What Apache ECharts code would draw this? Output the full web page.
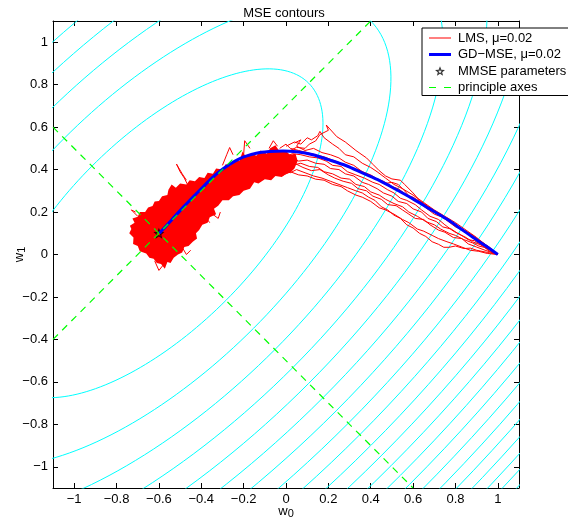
<!DOCTYPE html>
<html>
<head>
<meta charset="utf-8">
<title>MSE contours</title>
<script src="https://cdn.jsdelivr.net/npm/echarts@6/dist/echarts.min.js"></script>
<style>
  html, body { margin: 0; padding: 0; background: #fff; }
  #main { width: 568px; height: 529px; }
</style>
</head>
<body>
<div id="main"></div>
<script>
// tick labels (both axes)
var xTicks = [-1, -0.8, -0.6, -0.4, -0.2, 0, 0.2, 0.4, 0.6, 0.8, 1];
var yTicks = [-1, -0.8, -0.6, -0.4, -0.2, 0, 0.2, 0.4, 0.6, 0.8, 1];

// MSE surface: minimum, eigenvalue ratio of the principal axes, contour levels
var mmse = [-0.6, 0.1];
var eigenRatio = 5;
var contourLevels = [1, 2, 3, 4, 5, 6, 7, 8, 9, 10, 11, 12, 13, 14, 15, 16, 17, 18, 19, 20, 21];

// principal axes (end points)
var principalAxes = [
  [[-1.1, -0.4], [0.4, 1.1]],
  [[-1.1, 0.6], [0.6, -1.1]]
];

// gradient descent path, from w = (1, 0) to the MMSE point
var gdPath = [
  [1.0, 0.0], [0.94, 0.042], [0.882, 0.081], [0.82, 0.125], [0.757, 0.168],
  [0.678, 0.215], [0.599, 0.262], [0.52, 0.306], [0.442, 0.348], [0.363, 0.383],
  [0.285, 0.418], [0.2, 0.447], [0.127, 0.47], [0.05, 0.484], [-0.014, 0.488],
  [-0.08, 0.485], [-0.14, 0.477], [-0.218, 0.452], [-0.297, 0.404], [-0.35, 0.36],
  [-0.392, 0.318], [-0.44, 0.27], [-0.486, 0.222], [-0.54, 0.163], [-0.598, 0.1]
];

// dense part of the LMS runs around the MMSE point (outline)
var lmsCloud = [
  [-0.737, 0.136], [-0.715, 0.15], [-0.725, 0.17], [-0.7, 0.178], [-0.69, 0.2],
  [-0.665, 0.2], [-0.651, 0.222], [-0.63, 0.228], [-0.62, 0.25], [-0.6, 0.252],
  [-0.585, 0.275], [-0.56, 0.28], [-0.555, 0.305], [-0.54, 0.33], [-0.52, 0.315],
  [-0.5, 0.335], [-0.47, 0.33], [-0.455, 0.35], [-0.43, 0.345], [-0.41, 0.365],
  [-0.385, 0.36], [-0.37, 0.385], [-0.345, 0.38], [-0.33, 0.405], [-0.3, 0.4],
  [-0.285, 0.425], [-0.26, 0.42], [-0.245, 0.445], [-0.22, 0.44], [-0.205, 0.485],
  [-0.19, 0.46], [-0.16, 0.475], [-0.14, 0.465], [-0.12, 0.49], [-0.09, 0.475],
  [-0.075, 0.5], [-0.05, 0.515], [-0.03, 0.485], [0.0, 0.485], [0.02, 0.47],
  [0.045, 0.475], [0.055, 0.44], [0.04, 0.405], [0.02, 0.385], [0.0, 0.38],
  [-0.02, 0.365], [-0.05, 0.37], [-0.07, 0.35], [-0.1, 0.355], [-0.13, 0.335],
  [-0.15, 0.34], [-0.17, 0.31], [-0.2, 0.3], [-0.22, 0.28], [-0.25, 0.275],
  [-0.27, 0.255], [-0.3, 0.255], [-0.32, 0.23], [-0.34, 0.215], [-0.33, 0.19],
  [-0.36, 0.175], [-0.37, 0.15], [-0.395, 0.14], [-0.41, 0.115], [-0.425, 0.1],
  [-0.42, 0.075], [-0.44, 0.06], [-0.46, 0.04], [-0.48, 0.035], [-0.49, 0.01],
  [-0.51, 0.0], [-0.53, -0.015], [-0.545, -0.04], [-0.56, -0.035], [-0.572, -0.067],
  [-0.59, -0.045], [-0.61, -0.04], [-0.625, -0.02], [-0.645, -0.015], [-0.66, 0.005],
  [-0.69, 0.015], [-0.7, 0.04], [-0.722, 0.05], [-0.72, 0.08], [-0.74, 0.1],
  [-0.73, 0.12]
];

// individual LMS runs (and stray excursions at the cloud edge)
var lmsRuns = [
  [[1, 0], [0.96, 0.03], [0.93, 0.05], [0.9, 0.075], [0.87, 0.09], [0.84, 0.115], [0.8, 0.13], [0.76, 0.16], [0.72, 0.19], [0.68, 0.22], [0.63, 0.255], [0.6, 0.29], [0.56, 0.33], [0.54, 0.35], [0.5, 0.356], [0.47, 0.37], [0.44, 0.395], [0.41, 0.425], [0.38, 0.455], [0.33, 0.49], [0.28, 0.53], [0.24, 0.555], [0.19, 0.61], [0.2, 0.585], [0.16, 0.565], [0.14, 0.535], [0.11, 0.52], [0.09, 0.5], [0.05, 0.505], [0.02, 0.49], [-0.02, 0.47], [-0.06, 0.49], [-0.1, 0.465], [-0.14, 0.48]],
  [[1, 0], [0.95, 0.01], [0.9, 0.02], [0.87, 0.03], [0.84, 0.028], [0.8, 0.04], [0.77, 0.034], [0.745, 0.034], [0.72, 0.048], [0.69, 0.06], [0.66, 0.085], [0.63, 0.1], [0.6, 0.125], [0.57, 0.14], [0.54, 0.17], [0.51, 0.185], [0.48, 0.21], [0.45, 0.225], [0.42, 0.255], [0.39, 0.27], [0.36, 0.29], [0.33, 0.3], [0.29, 0.315], [0.25, 0.33], [0.21, 0.345], [0.17, 0.36], [0.13, 0.37], [0.09, 0.385], [0.05, 0.4], [0.02, 0.385], [-0.02, 0.4]],
  [[1, 0], [0.96, 0.02], [0.92, 0.045], [0.88, 0.06], [0.85, 0.08], [0.81, 0.1], [0.78, 0.12], [0.74, 0.13], [0.71, 0.155], [0.67, 0.17], [0.64, 0.2], [0.6, 0.215], [0.57, 0.24], [0.53, 0.25], [0.5, 0.275], [0.46, 0.29], [0.43, 0.31], [0.39, 0.33], [0.36, 0.34], [0.32, 0.37], [0.28, 0.38], [0.25, 0.4], [0.21, 0.405], [0.18, 0.425], [0.14, 0.43], [0.1, 0.445], [0.06, 0.44], [0.02, 0.455], [-0.02, 0.43], [-0.06, 0.445]],
  [[1, 0], [0.97, 0.025], [0.93, 0.055], [0.9, 0.07], [0.86, 0.1], [0.83, 0.12], [0.79, 0.145], [0.75, 0.17], [0.71, 0.2], [0.68, 0.215], [0.64, 0.245], [0.6, 0.27], [0.57, 0.28], [0.53, 0.31], [0.5, 0.32], [0.46, 0.345], [0.42, 0.36], [0.38, 0.38], [0.34, 0.4], [0.3, 0.41], [0.26, 0.43], [0.22, 0.445], [0.18, 0.46], [0.14, 0.47], [0.1, 0.48], [0.06, 0.49], [0.02, 0.5], [0.0, 0.52], [-0.03, 0.5]],
  [[1, 0], [0.95, 0.03], [0.91, 0.04], [0.88, 0.055], [0.84, 0.07], [0.8, 0.09], [0.77, 0.1], [0.73, 0.12], [0.7, 0.14], [0.66, 0.155], [0.62, 0.18], [0.58, 0.2], [0.55, 0.225], [0.51, 0.24], [0.47, 0.26], [0.44, 0.28], [0.4, 0.295], [0.37, 0.32], [0.33, 0.33], [0.3, 0.355], [0.26, 0.36], [0.22, 0.38], [0.18, 0.39], [0.15, 0.41], [0.11, 0.415], [0.07, 0.43], [0.03, 0.42], [-0.01, 0.44], [-0.05, 0.42]],
  [[1, 0], [0.96, 0.035], [0.92, 0.06], [0.89, 0.085], [0.85, 0.11], [0.82, 0.12], [0.78, 0.15], [0.74, 0.175], [0.7, 0.19], [0.66, 0.22], [0.62, 0.25], [0.59, 0.265], [0.56, 0.3], [0.53, 0.33], [0.5, 0.34], [0.47, 0.335], [0.44, 0.35], [0.4, 0.375], [0.36, 0.39], [0.32, 0.42], [0.28, 0.435], [0.25, 0.455], [0.21, 0.47], [0.17, 0.48], [0.13, 0.5], [0.09, 0.49], [0.05, 0.51], [0.07, 0.54], [0.04, 0.525]],
  [[1, 0], [0.94, 0.02], [0.9, 0.035], [0.86, 0.05], [0.83, 0.075], [0.79, 0.08], [0.75, 0.105], [0.72, 0.115], [0.68, 0.14], [0.65, 0.165], [0.61, 0.17], [0.58, 0.19], [0.55, 0.21], [0.52, 0.23], [0.48, 0.235], [0.45, 0.26], [0.41, 0.275], [0.38, 0.3], [0.34, 0.31], [0.31, 0.335], [0.27, 0.345], [0.23, 0.36], [0.2, 0.375], [0.16, 0.4], [0.12, 0.395], [0.08, 0.41], [0.04, 0.43], [0.0, 0.41]],
  [[1, 0], [0.96, 0.015], [0.93, 0.04], [0.89, 0.065], [0.86, 0.07], [0.82, 0.095], [0.79, 0.11], [0.75, 0.14], [0.72, 0.165], [0.68, 0.18], [0.64, 0.21], [0.61, 0.235], [0.57, 0.255], [0.54, 0.265], [0.51, 0.29], [0.48, 0.305], [0.44, 0.33], [0.41, 0.34], [0.37, 0.36], [0.33, 0.375], [0.29, 0.39], [0.26, 0.415], [0.22, 0.42], [0.19, 0.44], [0.15, 0.455], [0.11, 0.46], [0.07, 0.47], [0.03, 0.475], [0.0, 0.46]],
  [[1, 0], [0.95, 0.04], [0.9, 0.08], [0.85, 0.115], [0.8, 0.15], [0.75, 0.18], [0.7, 0.21], [0.65, 0.245], [0.6, 0.28], [0.55, 0.31], [0.51, 0.33], [0.47, 0.36], [0.43, 0.39], [0.4, 0.41], [0.36, 0.43], [0.32, 0.46], [0.28, 0.47], [0.25, 0.5], [0.22, 0.52], [0.18, 0.55], [0.16, 0.58], [0.15, 0.56], [0.12, 0.54], [0.1, 0.55], [0.07, 0.52], [0.04, 0.53], [0.0, 0.51]],
  [[1, 0], [0.95, 0.005], [0.91, 0.015], [0.87, 0.02], [0.83, 0.035], [0.79, 0.05], [0.76, 0.06], [0.72, 0.075], [0.69, 0.09], [0.65, 0.11], [0.62, 0.12], [0.58, 0.15], [0.55, 0.165], [0.51, 0.19], [0.47, 0.21], [0.44, 0.22], [0.4, 0.25], [0.36, 0.27], [0.33, 0.28], [0.29, 0.3], [0.26, 0.32], [0.22, 0.33], [0.18, 0.35], [0.14, 0.355], [0.1, 0.37], [0.06, 0.375], [0.02, 0.39], [-0.02, 0.37]],
  [[-0.45, 0.3], [-0.48, 0.36], [-0.5, 0.39], [-0.517, 0.426], [-0.49, 0.38], [-0.47, 0.35]],
  [[-0.3, 0.42], [-0.28, 0.47], [-0.266, 0.504], [-0.25, 0.47]],
  [[-0.2, 0.47], [-0.195, 0.536], [-0.17, 0.5]],
  [[-0.08, 0.5], [-0.06, 0.536], [-0.04, 0.51]],
  [[-0.45, 0.2], [-0.41, 0.17], [-0.39, 0.19], [-0.36, 0.15]],
  [[-0.5, 0.05], [-0.47, 0.0], [-0.45, 0.02]],
  [[-0.62, -0.03], [-0.6, -0.075], [-0.58, -0.05]],
  [[-0.7, 0.18], [-0.73, 0.21], [-0.71, 0.2]],
  [[-0.36, 0.2], [-0.32, 0.17], [-0.31, 0.2]]
];

var LMS = 'LMS, \u03bc=0.02';
var GD = 'GD\u2212MSE, \u03bc=0.02';
var MM = 'MMSE parameters';
var PA = 'principle axes';

function starPath(cx, cy, R, r, rev) {
  var pts = [];
  for (var i = 0; i < 10; i++) {
    var a = -Math.PI / 2 + i * Math.PI / 5;
    var rr = i % 2 ? r : R;
    pts.push((cx + rr * Math.cos(a)).toFixed(2) + ',' + (cy + rr * Math.sin(a)).toFixed(2));
  }
  if (rev) pts.reverse();
  return 'M' + pts.join('L') + 'Z';
}
// outline star as a filled ring
var starSymbol = 'path://' + starPath(5, 5, 5, 2.2, false) + starPath(5, 5, 2.6, 0.8, true);
// legend icons live in a 22x14 box, the tiny corner marks keep that box
var box = 'M0,0L0.01,0L0.01,0.01Z M22,14L21.99,14L21.99,13.99Z ';
var iconLms = 'path://' + box + 'M0,6.5L22,6.5L22,7.5L0,7.5Z';
var iconGd = 'path://' + box + 'M0,5.5L22,5.5L22,8.5L0,8.5Z';
var iconStar = 'path://' + box + starPath(11, 7.5, 5.2, 2.3, false) + starPath(11, 7.5, 2.4, 0.7, true);
var iconAxes = 'path://' + box + 'M0,6.5L7,6.5L7,7.5L0,7.5Z M15,6.5L22,6.5L22,7.5L15,7.5Z';

function fmt(v) {
  return (v < 0 ? '\u2212' : '') + Math.abs(v);
}

var series = [];

contourLevels.forEach(function (k) {
  var pts = [];
  for (var i = 0; i <= 200; i++) {
    var th = i / 200 * 2 * Math.PI;
    var s = Math.sqrt(k) * Math.cos(th);
    var t = Math.sqrt(k / eigenRatio) * Math.sin(th);
    pts.push([mmse[0] + (s + t) / Math.SQRT2, mmse[1] + (s - t) / Math.SQRT2]);
  }
  series.push({
    type: 'line', name: 'contour', data: pts, symbol: 'none', silent: true,
    lineStyle: { color: '#00ffff', width: 1 }
  });
});

series.push({
  type: 'custom', name: LMS, data: [mmse], silent: true,
  renderItem: function (params, api) {
    return {
      type: 'polygon',
      shape: { points: lmsCloud.map(function (p) { return api.coord(p); }) },
      style: { fill: '#ff0000' }
    };
  }
});

lmsRuns.forEach(function (run) {
  series.push({
    type: 'line', name: LMS, data: run, symbol: 'none', silent: true,
    color: '#ff0000', lineStyle: { color: '#ff0000', width: 1 }
  });
});

series.push({
  type: 'line', name: GD, data: gdPath, symbol: 'none', silent: true, smooth: 0.3,
  color: '#0000ff', lineStyle: { color: '#0000ff', width: 3 }
});

series.push({
  type: 'scatter', name: MM, data: [mmse], symbol: starSymbol, symbolSize: 11, silent: true,
  itemStyle: { color: '#000' }
});

principalAxes.forEach(function (seg) {
  series.push({
    type: 'line', name: PA, data: seg, symbol: 'none', silent: true,
    color: '#00ff00', lineStyle: { color: '#00ff00', width: 1.2, type: [7, 6] }
  });
});

var axisCommon = {
  type: 'value', min: -1.1, max: 1.1,
  splitLine: { show: false },
  axisLine: { show: true, onZero: false, lineStyle: { color: '#000', width: 1 } }
};

function makeAxis(pos, ticks, labels, extra) {
  var a = Object.assign({}, axisCommon, {
    position: pos,
    axisTick: { show: true, inside: true, length: 5, customValues: ticks, lineStyle: { color: '#000' } },
    axisLabel: labels ? {
      customValues: ticks, formatter: fmt, fontSize: 13, color: '#000', margin: 5
    } : { show: false }
  });
  return Object.assign(a, extra || {});
}

var nameRich = {
  w: { fontSize: 13, color: '#000', lineHeight: 14, verticalAlign: 'top' },
  s: { fontSize: 11, color: '#000', lineHeight: 12, padding: [6, 0, 0, 0], verticalAlign: 'bottom' }
};

var chart = echarts.init(document.getElementById('main'), null, { renderer: 'canvas' });
chart.setOption({
  animation: false,
  backgroundColor: '#fff',
  textStyle: { fontFamily: 'Liberation Sans, Arial, sans-serif' },
  title: {
    text: 'MSE contours', left: 'center', top: 6, padding: 0,
    textStyle: { fontSize: 13, fontWeight: 'normal', color: '#000', lineHeight: 15 }
  },
  grid: { left: 53, top: 21, width: 466, height: 467, outerBoundsMode: 'none', containLabel: false },
  xAxis: [
    makeAxis('bottom', xTicks, true, {
      name: '{w|w}{s|0}', nameLocation: 'middle', nameGap: 17, nameMoveOverlap: false,
      nameTextStyle: { rich: nameRich }
    }),
    makeAxis('top', xTicks, false)
  ],
  yAxis: [
    makeAxis('left', yTicks, true, {
      name: '{w|w}{s|1}', nameLocation: 'middle', nameGap: 26, nameRotate: 90, nameMoveOverlap: false,
      nameTextStyle: { rich: nameRich }
    }),
    makeAxis('right', yTicks, false)
  ],
  legend: {
    left: 422, top: 28, orient: 'vertical',
    padding: [3, 30, 1, 7], itemWidth: 22, itemHeight: 14, itemGap: 2.5,
    backgroundColor: '#fff', borderColor: '#000', borderWidth: 1, borderRadius: 0,
    selectedMode: false,
    textStyle: { fontSize: 13, color: '#000', lineHeight: 14, padding: [0, 0, 0, 2] },
    data: [
      { name: LMS, icon: iconLms, itemStyle: { color: '#ff0000', borderWidth: 0 } },
      { name: GD, icon: iconGd, itemStyle: { color: '#0000ff', borderWidth: 0 } },
      { name: MM, icon: iconStar, itemStyle: { color: '#000', borderWidth: 0 } },
      { name: PA, icon: iconAxes, itemStyle: { color: '#00ff00', borderWidth: 0 } }
    ]
  },
  series: series
});
</script>
</body>
</html>
